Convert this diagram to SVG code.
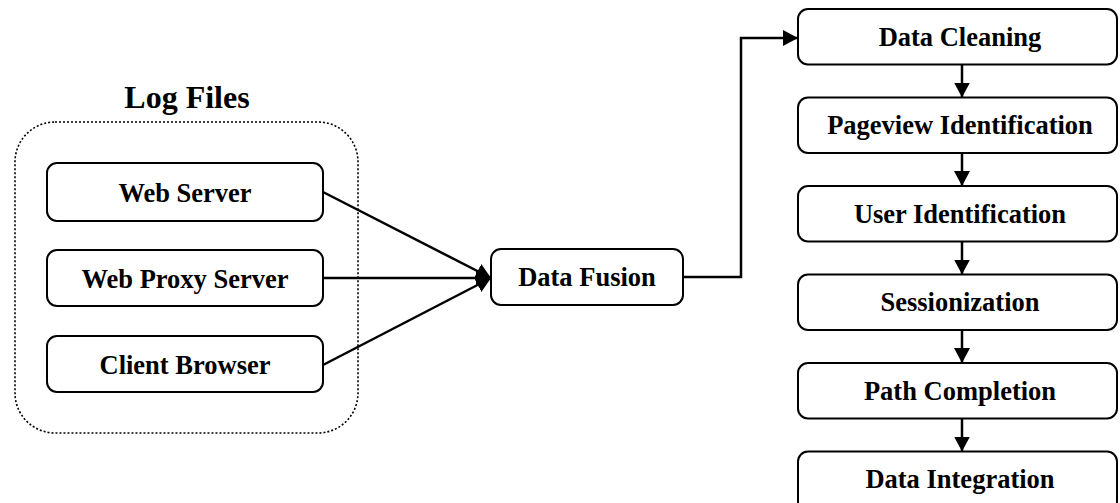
<svg xmlns="http://www.w3.org/2000/svg" width="1120" height="503" viewBox="0 0 1120 503">
  <style>
    .box { fill: #ffffff; stroke: #000000; stroke-width: 2; }
    .lbl { font-family: "Liberation Serif", "Times New Roman", serif; font-weight: bold; font-size: 26.5px; text-anchor: middle; fill: #000000; }
    .title { font-family: "Liberation Serif", "Times New Roman", serif; font-weight: bold; font-size: 32px; text-anchor: middle; fill: #000000; }
    .edge { fill: none; stroke: #000000; stroke-width: 2.5; }
    .group { fill: none; stroke: #000000; stroke-width: 1.6; stroke-dasharray: 2 2; }
  </style>
  <defs>
    <marker id="arrow" markerUnits="userSpaceOnUse" markerWidth="15" markerHeight="16" refX="15" refY="8" orient="auto">
      <path d="M0,0 L15,8 L0,16 z" fill="#000000"/>
    </marker>
  </defs>
  <rect width="1120" height="503" fill="#ffffff"/>

  <!-- log file sources -->
  <g id="log-files">
    <text class="title" x="187" y="108">Log Files</text>
    <rect class="group" x="15" y="122" width="343" height="311" rx="40" ry="40"/>
  </g>
  <g id="web-server">
    <rect class="box" x="47" y="163" width="276" height="58" rx="10" ry="10"/>
    <text class="lbl" x="185" y="202">Web Server</text>
  </g>
  <g id="web-proxy-server">
    <rect class="box" x="47" y="250" width="276" height="56" rx="10" ry="10"/>
    <text class="lbl" x="185" y="288">Web Proxy Server</text>
  </g>
  <g id="client-browser">
    <rect class="box" x="47" y="336" width="276" height="56" rx="10" ry="10"/>
    <text class="lbl" x="185" y="374">Client Browser</text>
  </g>

  <g id="data-fusion">
    <rect class="box" x="491" y="249" width="192" height="56" rx="10" ry="10"/>
    <text class="lbl" x="587" y="286">Data Fusion</text>
  </g>

  <!-- preprocessing pipeline -->
  <g id="data-cleaning">
    <rect class="box" x="798" y="9" width="319" height="55.5" rx="10" ry="10"/>
    <text class="lbl" x="960" y="46">Data Cleaning</text>
  </g>
  <g id="pageview-identification">
    <rect class="box" x="798" y="97.5" width="319" height="55.5" rx="10" ry="10"/>
    <text class="lbl" x="960" y="134">Pageview Identification</text>
  </g>
  <g id="user-identification">
    <rect class="box" x="798" y="186" width="319" height="55.5" rx="10" ry="10"/>
    <text class="lbl" x="960" y="223">User Identification</text>
  </g>
  <g id="sessionization">
    <rect class="box" x="798" y="274.5" width="319" height="55.5" rx="10" ry="10"/>
    <text class="lbl" x="960" y="311">Sessionization</text>
  </g>
  <g id="path-completion">
    <rect class="box" x="798" y="363" width="319" height="55.5" rx="10" ry="10"/>
    <text class="lbl" x="960" y="400">Path Completion</text>
  </g>
  <g id="data-integration">
    <rect class="box" x="798" y="451.5" width="319" height="60" rx="10" ry="10"/>
    <text class="lbl" x="960" y="488">Data Integration</text>
  </g>

  <!-- connectors -->
  <g id="connectors">
    <line class="edge" x1="323" y1="192" x2="491" y2="278" marker-end="url(#arrow)"/>
    <line class="edge" x1="323" y1="278" x2="491" y2="278" marker-end="url(#arrow)"/>
    <line class="edge" x1="323" y1="365" x2="491" y2="278" marker-end="url(#arrow)"/>
    <polyline class="edge" points="683,277 741,277 741,38 798,38" marker-end="url(#arrow)"/>
    <line class="edge" x1="962" y1="64.5" x2="962" y2="97.5" marker-end="url(#arrow)"/>
    <line class="edge" x1="962" y1="153" x2="962" y2="186" marker-end="url(#arrow)"/>
    <line class="edge" x1="962" y1="241.5" x2="962" y2="274.5" marker-end="url(#arrow)"/>
    <line class="edge" x1="962" y1="330" x2="962" y2="363" marker-end="url(#arrow)"/>
    <line class="edge" x1="962" y1="418.5" x2="962" y2="451.5" marker-end="url(#arrow)"/>
  </g>
</svg>
